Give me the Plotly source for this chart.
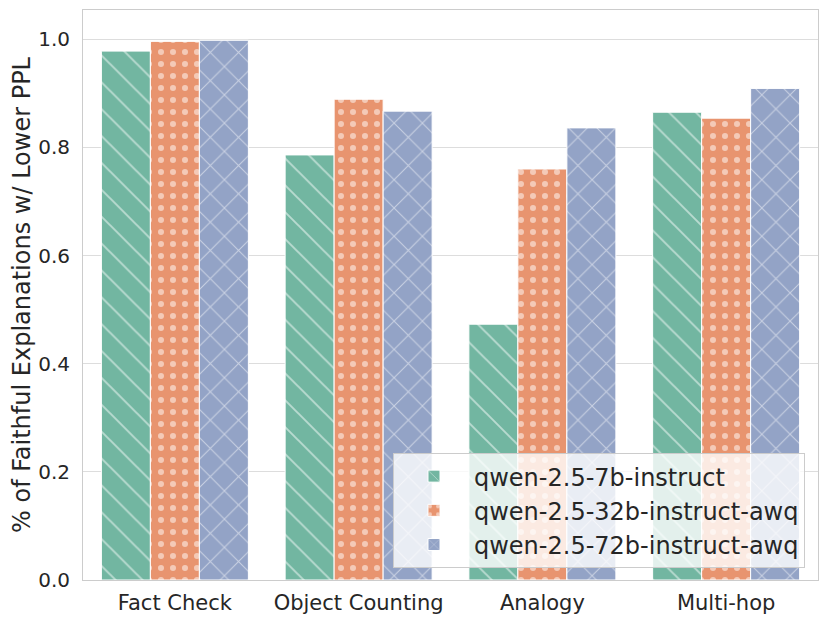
import plotly.graph_objects as go

categories = ["Fact Check", "Object Counting", "Analogy", "Multi-hop"]
series_names = ["qwen-2.5-7b-instruct", "qwen-2.5-32b-instruct-awq", "qwen-2.5-72b-instruct-awq"]
qwen_7b = [0.978, 0.786, 0.473, 0.865]
qwen_32b = [0.996, 0.889, 0.760, 0.854]
qwen_72b = [0.998, 0.867, 0.836, 0.909]
y_ticks = [0.0, 0.2, 0.4, 0.6, 0.8, 1.0]

colors = ["#72b6a1", "#e8946f", "#93a3c6"]
shapes = ["\\", ".", "x"]
sizes = [19, 12, 20]
solid = [0.1, 0.2, 0.1]

fig = go.Figure()
for i, (name, vals, c, sh, sz, so) in enumerate(zip(series_names, [qwen_7b, qwen_32b, qwen_72b], colors, shapes, sizes, solid)):
    fig.add_trace(go.Bar(
        name=name, x=categories, y=vals, legendgroup=f"g{i}",
        marker=dict(color=c, line=dict(color="white", width=1),
                    pattern=dict(shape=sh, fgcolor="white", bgcolor=c, size=sz, solidity=so)),
    ))

# page body adds an 8px offset; compensate so the plot area lands at the reference position
fig.update_layout(
    width=822, height=615,
    barmode="group", bargap=0.2, bargroupgap=0,
    plot_bgcolor="white", paper_bgcolor="white",
    margin=dict(l=75, r=12, t=2, b=43, autoexpand=False),
    font=dict(family="DejaVu Sans", color="#262626", size=21),
    legend=dict(x=0.9823, y=0.021, xanchor="right", yanchor="bottom",
                bgcolor="rgba(255,255,255,0.8)", bordercolor="#cccccc", borderwidth=1,
                font=dict(size=24), tracegroupgap=0, itemwidth=70),
    xaxis=dict(showgrid=False, showline=True, linecolor="#cccccc", mirror=True,
               ticks="", tickfont=dict(size=21), automargin=False, ticklabelstandoff=4),
    yaxis=dict(range=[0, 1.054], tickvals=y_ticks, tickformat=".1f",
               showgrid=True, gridcolor="#dddddd", gridwidth=1,
               showline=True, linecolor="#cccccc", mirror=True, zeroline=False,
               ticks="", tickfont=dict(size=20), automargin=False, ticklabelstandoff=8,
               title=dict(text="% of Faithful Explanations w/ Lower PPL", font=dict(size=24), standoff=6)),
)

fig.write_html("out.html")
